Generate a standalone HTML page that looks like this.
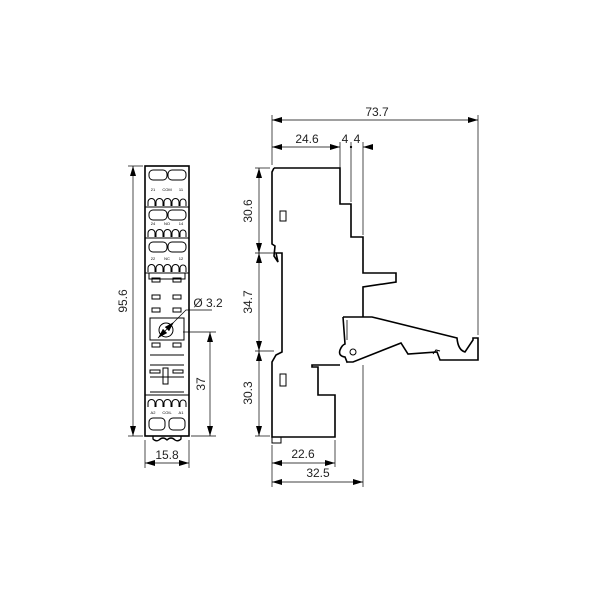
<!DOCTYPE html>
<html><head><style>body{margin:0;background:#fff}svg{display:block}</style></head><body>
<svg width="600" height="600" viewBox="0 0 600 600" xmlns="http://www.w3.org/2000/svg" font-family="Liberation Sans, sans-serif">
<defs>
<marker id="a" viewBox="0 0 10 6" refX="10" refY="3" markerWidth="10" markerHeight="6" orient="auto-start-reverse" markerUnits="userSpaceOnUse"><path d="M0,0L10,3L0,6z" fill="#000"/></marker>
</defs>
<g fill="none" stroke="#000">
<!-- FRONT VIEW -->
<rect x="145" y="166" width="44" height="270" stroke-width="1.6"/>
<g stroke-width="1">
<line x1="145" y1="207" x2="189" y2="207"/><line x1="145" y1="238" x2="189" y2="238"/><line x1="145" y1="273" x2="189" y2="273"/>
<rect x="149" y="170" width="18" height="10" rx="4"/><rect x="168" y="170" width="18" height="10" rx="4"/>
<rect x="149" y="210" width="18" height="10" rx="4"/><rect x="168" y="210" width="18" height="10" rx="4"/>
<rect x="149" y="242" width="18" height="10" rx="4"/><rect x="168" y="242" width="18" height="10" rx="4"/>
<path d="M148,206v-4a3,3 0 0 1 7,0v4M156,206v-4a3,3 0 0 1 7,0v4M164,206v-4a3,3 0 0 1 7,0v4M172,206v-4a3,3 0 0 1 7,0v4M180,206v-4a3,3 0 0 1 6,0v4"/>
<path d="M148,237v-4a3,3 0 0 1 7,0v4M156,237v-4a3,3 0 0 1 7,0v4M164,237v-4a3,3 0 0 1 7,0v4M172,237v-4a3,3 0 0 1 7,0v4M180,237v-4a3,3 0 0 1 6,0v4"/>
<path d="M148,272v-4a3,3 0 0 1 7,0v4M156,272v-4a3,3 0 0 1 7,0v4M164,272v-4a3,3 0 0 1 7,0v4M172,272v-4a3,3 0 0 1 7,0v4M180,272v-4a3,3 0 0 1 6,0v4"/>
<path d="M149,273v6h36v-6"/>
<rect x="152" y="278" width="8" height="4"/><rect x="173" y="278" width="8" height="4"/>
<rect x="152" y="295" width="8" height="4"/><rect x="173" y="295" width="8" height="4"/>
<rect x="152" y="308" width="8" height="4"/><rect x="173" y="308" width="8" height="4"/>
<path d="M150,318h34v22h-34z"/>
<circle cx="166" cy="330" r="7"/>
<rect x="152" y="343" width="8" height="4"/><rect x="173" y="343" width="8" height="4"/>
<path d="M150,355h34M150,365h34M150,377h34M150,392h34M145,395h44"/>
<rect x="163" y="368" width="5" height="16"/>
<rect x="150" y="370" width="10" height="3"/><rect x="173" y="370" width="10" height="3"/>
<path d="M148,407v-4a3,3 0 0 1 7,0v4M156,407v-4a3,3 0 0 1 7,0v4M164,407v-4a3,3 0 0 1 7,0v4M172,407v-4a3,3 0 0 1 7,0v4M180,407v-4a3,3 0 0 1 6,0v4"/>
<rect x="149" y="418" width="16" height="12" rx="4"/><rect x="169" y="418" width="16" height="12" rx="4"/>
<path d="M153,436v3q3,3 6,1q4,-4 8,0q4,-4 8,0q3,2 6,-1v-3" stroke-width="1.3"/>
</g>
<!-- front dims -->
<g stroke-width="0.7">
<line x1="128" y1="166" x2="143" y2="166"/><line x1="128" y1="436" x2="143" y2="436"/>
<line x1="133" y1="166" x2="133" y2="436" marker-start="url(#a)" marker-end="url(#a)"/>
<line x1="183" y1="332" x2="216" y2="332"/><line x1="191" y1="436" x2="216" y2="436"/>
<line x1="210" y1="332" x2="210" y2="436" marker-start="url(#a)" marker-end="url(#a)"/>
<line x1="145" y1="440" x2="145" y2="468"/><line x1="189" y1="440" x2="189" y2="468"/>
<line x1="145" y1="463" x2="189" y2="463" marker-start="url(#a)" marker-end="url(#a)"/>
<line x1="158" y1="338" x2="174" y2="322" marker-start="url(#a)" marker-end="url(#a)"/>
<path d="M174,322L186,310h26"/>
</g>
<!-- SIDE VIEW -->
<path stroke-width="1.6" d="M274,168H340V204H351V237H363V273H396V282L363,287V317 M274,168L272,172V244L275,246L274,256L278,262L276,253H282V352L276,355L272,362V437H335V395H318V367H312V365H340"/>
<path stroke-width="1.6" d="M343,317H372L457,338Q458,350 465,352L473,340V338H478V360H440L437,352L408,354L401,343L353,362H347L345,357Q338,356 340,350Q342,345 345,344L343,317"/>
<path stroke-width="0.8" d="M347,320V340M345,357L347,363"/>
<circle cx="353" cy="352" r="3" stroke-width="1"/>
<path stroke-width="1" d="M433,354l3,-4l4,1"/>
<rect x="280" y="211" width="6" height="10" stroke-width="1"/>
<rect x="280" y="374" width="6" height="12" stroke-width="1"/>
<rect x="272" y="437" width="9" height="6" stroke-width="1"/>
<!-- side dims -->
<g stroke-width="0.7">
<line x1="272" y1="115" x2="272" y2="165"/><line x1="478" y1="115" x2="478" y2="335"/>
<line x1="272" y1="120" x2="478" y2="120" marker-start="url(#a)" marker-end="url(#a)"/>
<line x1="340" y1="142" x2="340" y2="190"/><line x1="351" y1="142" x2="351" y2="202"/><line x1="363" y1="142" x2="363" y2="235"/>
<line x1="272" y1="147" x2="340" y2="147" marker-start="url(#a)" marker-end="url(#a)"/>
<line x1="363" y1="147" x2="373" y2="147" marker-start="url(#a)"/>
<circle cx="351" cy="147" r="0.8" fill="#000"/>
<line x1="255" y1="168" x2="270" y2="168"/><line x1="255" y1="253" x2="274" y2="253"/><line x1="255" y1="351" x2="274" y2="351"/><line x1="255" y1="436" x2="270" y2="436"/>
<line x1="259" y1="168" x2="259" y2="253" marker-start="url(#a)" marker-end="url(#a)"/>
<line x1="259" y1="253" x2="259" y2="351" marker-start="url(#a)" marker-end="url(#a)"/>
<line x1="259" y1="351" x2="259" y2="436" marker-start="url(#a)" marker-end="url(#a)"/>
<line x1="272" y1="445" x2="272" y2="487"/><line x1="335" y1="440" x2="335" y2="467"/><line x1="363" y1="365" x2="363" y2="487"/>
<line x1="272" y1="463" x2="335" y2="463" marker-start="url(#a)" marker-end="url(#a)"/>
<line x1="272" y1="482" x2="363" y2="482" marker-start="url(#a)" marker-end="url(#a)"/>
</g>
</g>
<g font-size="12" fill="#222" text-anchor="middle">
<text x="377" y="116">73.7</text>
<text x="307" y="143">24.6</text>
<text x="345" y="143">4</text><text x="357" y="143">4</text>
<text x="303" y="458">22.6</text>
<text x="318" y="477">32.5</text>
<text x="167" y="459">15.8</text>
<text x="208" y="307">Ø 3.2</text>
<text transform="translate(252,211) rotate(-90)">30.6</text>
<text transform="translate(252,302) rotate(-90)">34.7</text>
<text transform="translate(252,393) rotate(-90)">30.3</text>
<text transform="translate(127,301) rotate(-90)">95.6</text>
<text transform="translate(205,384) rotate(-90)">37</text>
</g>
<g font-size="4" fill="#000" text-anchor="middle">
<text x="153" y="191">21</text><text x="167" y="191">COM</text><text x="181" y="191">11</text>
<text x="153" y="225">24</text><text x="167" y="225">NO</text><text x="181" y="225">14</text>
<text x="153" y="260">22</text><text x="167" y="260">NC</text><text x="181" y="260">12</text>
<text x="153" y="414">A2</text><text x="167" y="414">COIL</text><text x="181" y="414">A1</text>
</g>
</svg>
</body></html>
